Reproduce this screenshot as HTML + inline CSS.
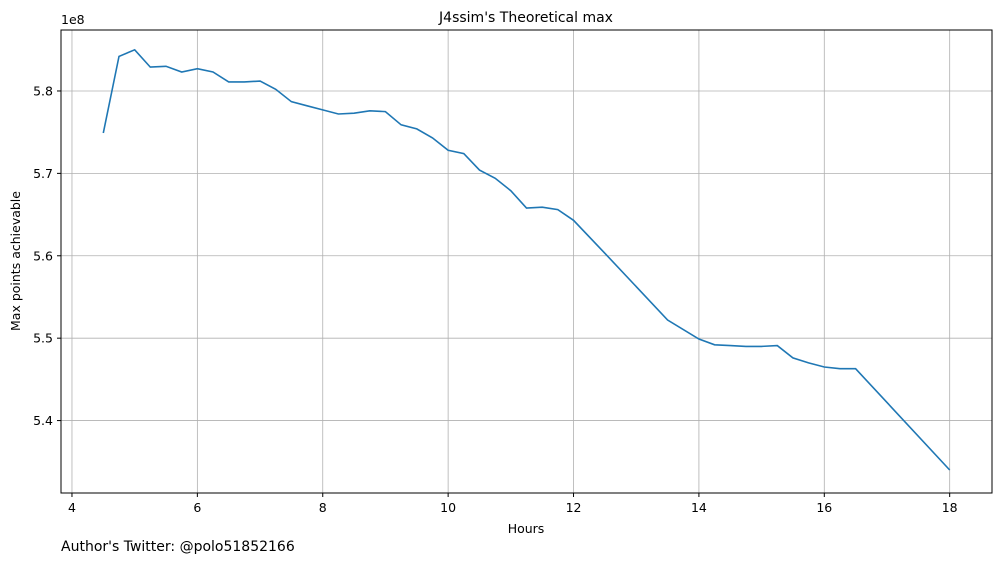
<!DOCTYPE html>
<html><head><meta charset="utf-8"><style>
body{margin:0;background:#fff;font-family:"Liberation Sans","DejaVu Sans",sans-serif;}
svg text{font-family:"DejaVu Sans","Liberation Sans",sans-serif;}
</style></head><body>
<svg id="chart" width="1001" height="562" xmlns="http://www.w3.org/2000/svg">
<text x="526" y="22" text-anchor="middle" font-size="14">J4ssim's Theoretical max</text>
<text x="526" y="533" text-anchor="middle" font-size="12.5">Hours</text>
<text transform="translate(20,261) rotate(-90)" text-anchor="middle" font-size="12.5">Max points achievable</text>
<text x="61" y="24" font-size="12.5">1e8</text>
<text x="61" y="551" font-size="14">Author's Twitter: @polo51852166</text>
<g id="grid"></g><g id="ticks"></g><g id="series"></g>
<rect x="61" y="30" width="931" height="463" fill="none" stroke="#000" stroke-width="1"/>
</svg>
<script>
const hours=[4.5,4.75,5,5.25,5.5,5.75,6,6.25,6.5,6.75,7,7.25,7.5,7.75,8,8.25,8.5,8.75,9,9.25,9.5,9.75,10,10.25,10.5,10.75,11,11.25,11.5,11.75,12,12.5,13.5,14,14.25,14.5,14.75,15,15.25,15.5,15.75,16,16.25,16.5,18];
const points=[5.749,5.842,5.850,5.829,5.830,5.823,5.827,5.823,5.811,5.811,5.812,5.802,5.787,5.782,5.777,5.772,5.773,5.776,5.775,5.759,5.754,5.743,5.728,5.724,5.704,5.694,5.679,5.658,5.659,5.656,5.643,5.603,5.522,5.499,5.492,5.491,5.490,5.490,5.491,5.476,5.470,5.465,5.463,5.463,5.340];
const xTicks=[4,6,8,10,12,14,16,18];
const yTicks=[5.4,5.5,5.6,5.7,5.8];
const NS="http://www.w3.org/2000/svg";
const X=v=>61+(v-3.825)*(931/14.85);
const Y=v=>493-(v-5.3121)*(463/0.5619);
const grid=document.getElementById('grid'),ticks=document.getElementById('ticks'),ser=document.getElementById('series');
function mk(tag,a,p){const e=document.createElementNS(NS,tag);for(const k in a)e.setAttribute(k,a[k]);p.appendChild(e);return e;}
xTicks.forEach(t=>{const x=X(t);
const g=mk('line',{x1:x,x2:x,y1:30,y2:493,stroke:'#b0b0b0','stroke-width':0.8},grid);


mk('line',{x1:x,x2:x,y1:493,y2:497,stroke:'#000'},ticks);
const l=mk('text',{x:x,y:512,'text-anchor':'middle','font-size':12.5},ticks);l.textContent=t;

});
yTicks.forEach(t=>{const y=Y(t);
const g=mk('line',{x1:61,x2:992,y1:y,y2:y,stroke:'#b0b0b0','stroke-width':0.8},grid);


mk('line',{x1:57,x2:61,y1:y,y2:y,stroke:'#000'},ticks);
const l=mk('text',{x:53,y:y+4.5,'text-anchor':'end','font-size':12.5},ticks);l.textContent=t.toFixed(1);

});
const d=hours.map((h,i)=>(i?'L':'M')+X(h).toFixed(1)+','+Y(points[i]).toFixed(1)).join(' ');
const p=mk('path',{d:d,fill:'none',stroke:'#1f77b4','stroke-width':1.6},ser);


</script>
</body></html>
